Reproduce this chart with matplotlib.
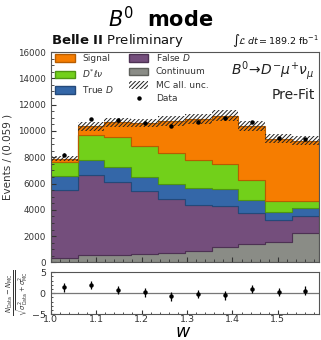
import numpy as np
import matplotlib
matplotlib.use("Agg")
import matplotlib.pyplot as plt
from matplotlib.patches import Patch
from matplotlib.lines import Line2D
from matplotlib.ticker import MultipleLocator, AutoMinorLocator

# bin edges in w (10 bins of 0.059)
edges = np.linspace(1.0, 1.59, 11)

# stacked MC components (events per bin), bottom to top
continuum = [350, 550, 600, 620, 700, 900, 1200, 1430, 1540, 2230]
false_d = [5180, 6130, 5520, 4780, 4120, 3490, 3060, 2320, 1700, 1320]
true_d = [1070, 1090, 1140, 1100, 1170, 1290, 1320, 1020, 590, 580]
dstar_lnu = [1040, 1930, 2260, 2390, 2340, 2140, 1910, 1530, 810, 510]
signal = [240, 640, 1130, 1730, 2420, 3070, 3670, 4100, 4780, 4610]
mc_unc = [190, 320, 330, 300, 350, 390, 420, 370, 330, 330]

data = [8200, 10900, 10820, 10620, 10380, 10700, 10950, 10670, 9480, 9380]
pull = [1.4, 1.95, 0.7, 0.2, -0.75, -0.25, -0.5, 0.95, 0.35, 0.6]
pull_err = [1.0] * 10

components = [
    ("Continuum", continuum, "#8a8c86", "#5e605b"),
    ("False $D$", false_d, "#744e7c", "#4d3153"),
    ("True $D$", true_d, "#3467a8", "#24497a"),
    ("$D^{*}\\ell\\nu$", dstar_lnu, "#72d01a", "#4f9612"),
    ("Signal", signal, "#f67d00", "#b85d00"),
]

plt.rcParams["hatch.linewidth"] = 0.7

fig = plt.figure(figsize=(3.21, 3.40), dpi=100)
ax = fig.add_axes([0.158, 0.228, 0.835, 0.619])
rax = fig.add_axes([0.158, 0.0756, 0.835, 0.124], sharex=ax)

base = np.zeros(10)
for name, vals, col, ecol in components:
    vals = np.array(vals, dtype=float)
    ax.stairs(base + vals, edges, baseline=base, fill=True, color=col, lw=0)
    ax.stairs(base + vals, edges, baseline=base, fill=False, color=ecol, lw=0.8)
    base = base + vals

total = base
unc = np.array(mc_unc, dtype=float)
ax.stairs(total + unc, edges, baseline=total - unc, fill=True, facecolor="none",
          edgecolor="#222222", hatch="////////", lw=0)

centers = 0.5 * (edges[:-1] + edges[1:])
data_err = np.sqrt(np.array(data, dtype=float))
ax.errorbar(centers, data, yerr=data_err, fmt="o", color="black", ms=2.2, elinewidth=0.8, capsize=0)

ax.set_xlim(1.0, 1.59)
ax.set_ylim(0, 16000)
ax.yaxis.set_major_locator(MultipleLocator(2000))
ax.yaxis.set_minor_locator(AutoMinorLocator(4))
ax.xaxis.set_minor_locator(AutoMinorLocator(5))
ax.tick_params(which="both", direction="in", labelsize=6.3, colors="#333333")
ax.tick_params(which="major", length=3.5)
ax.tick_params(which="minor", length=2)
ax.tick_params(axis="x", labelbottom=False)
ax.set_ylabel("Events / (0.059 )", fontsize=7.5, color="#333333", labelpad=4)
for s in ax.spines.values():
    s.set_color("#555555")
    s.set_linewidth(0.8)

# legend (blank entry keeps the first column at three rows)
handles = [
    Patch(facecolor="#f67d00", edgecolor="#b85d00", label="Signal"),
    Patch(facecolor="#72d01a", edgecolor="#4f9612", label="$D^{*}\\ell\\nu$"),
    Patch(facecolor="#3467a8", edgecolor="#24497a", label="True $D$"),
    Patch(facecolor="none", edgecolor="none", lw=0, label=" "),
    Patch(facecolor="#744e7c", edgecolor="#4d3153", label="False $D$"),
    Patch(facecolor="#8a8c86", edgecolor="#5e605b", label="Continuum"),
    Patch(facecolor="none", edgecolor="#222222", hatch="////////", lw=0, label="MC all. unc."),
    Line2D([], [], marker="o", color="black", ms=2.2, lw=0, label="Data"),
]
leg = ax.legend(handles=handles, ncol=2, loc="upper left", fontsize=6.5, frameon=False,
                handlelength=2.2, handleheight=0.9, columnspacing=1.6, labelspacing=0.5,
                borderaxespad=0.1, bbox_to_anchor=(0.0, 1.022))
for t in leg.get_texts():
    t.set_color("#333333")

ax.text(0.985, 0.965, "$B^0\\!\\rightarrow\\! D^{-}\\mu^{+}\\nu_{\\mu}$", transform=ax.transAxes,
        ha="right", va="top", fontsize=10, color="#222222")
ax.text(0.985, 0.83, "Pre-Fit", transform=ax.transAxes, ha="right", va="top",
        fontsize=10, color="#222222")

ax.text(0.0, 1.012, "$\\bf{Belle\\ II}$ Preliminary", transform=ax.transAxes, ha="left",
        va="bottom", fontsize=9.5, color="#111111")
ax.text(1.0, 1.012, "$\\int\\mathcal{L}\\,dt = $189.2 fb$^{-1}$", transform=ax.transAxes,
        ha="right", va="bottom", fontsize=6.8, color="#111111")

fig.text(0.5, 0.945, "$B^{0}$  $\\bf{mode}$", ha="center", va="center", fontsize=15)

# pull panel
rax.axhline(0, color="#777777", lw=0.9)
rax.errorbar(centers, pull, yerr=pull_err, fmt="o", color="black", ms=2.2, elinewidth=0.9, capsize=0)
rax.set_ylim(-5, 5)
rax.set_yticks([-5, 0, 5])
rax.set_xticks([1.0, 1.1, 1.2, 1.3, 1.4, 1.5])
rax.xaxis.set_minor_locator(AutoMinorLocator(5))
rax.yaxis.set_minor_locator(AutoMinorLocator(5))
rax.tick_params(which="both", direction="in", labelsize=6.8, colors="#333333")
rax.tick_params(which="major", length=3)
rax.tick_params(which="minor", length=1.5)
rax.tick_params(axis="x", pad=0.5)
for s in rax.spines.values():
    s.set_color("#555555")
    s.set_linewidth(0.8)
rax.set_ylabel("$\\frac{N_{\\mathrm{Data}}-N_{\\mathrm{MC}}}{\\sqrt{\\sigma^2_{\\mathrm{Data}}+\\sigma^2_{\\mathrm{MC}}}}$",
               fontsize=7, color="#333333", labelpad=1)
fig.text(0.57, -0.004, "$w$", ha="center", va="bottom", fontsize=12.5)

fig.savefig("out.png", dpi=100)
